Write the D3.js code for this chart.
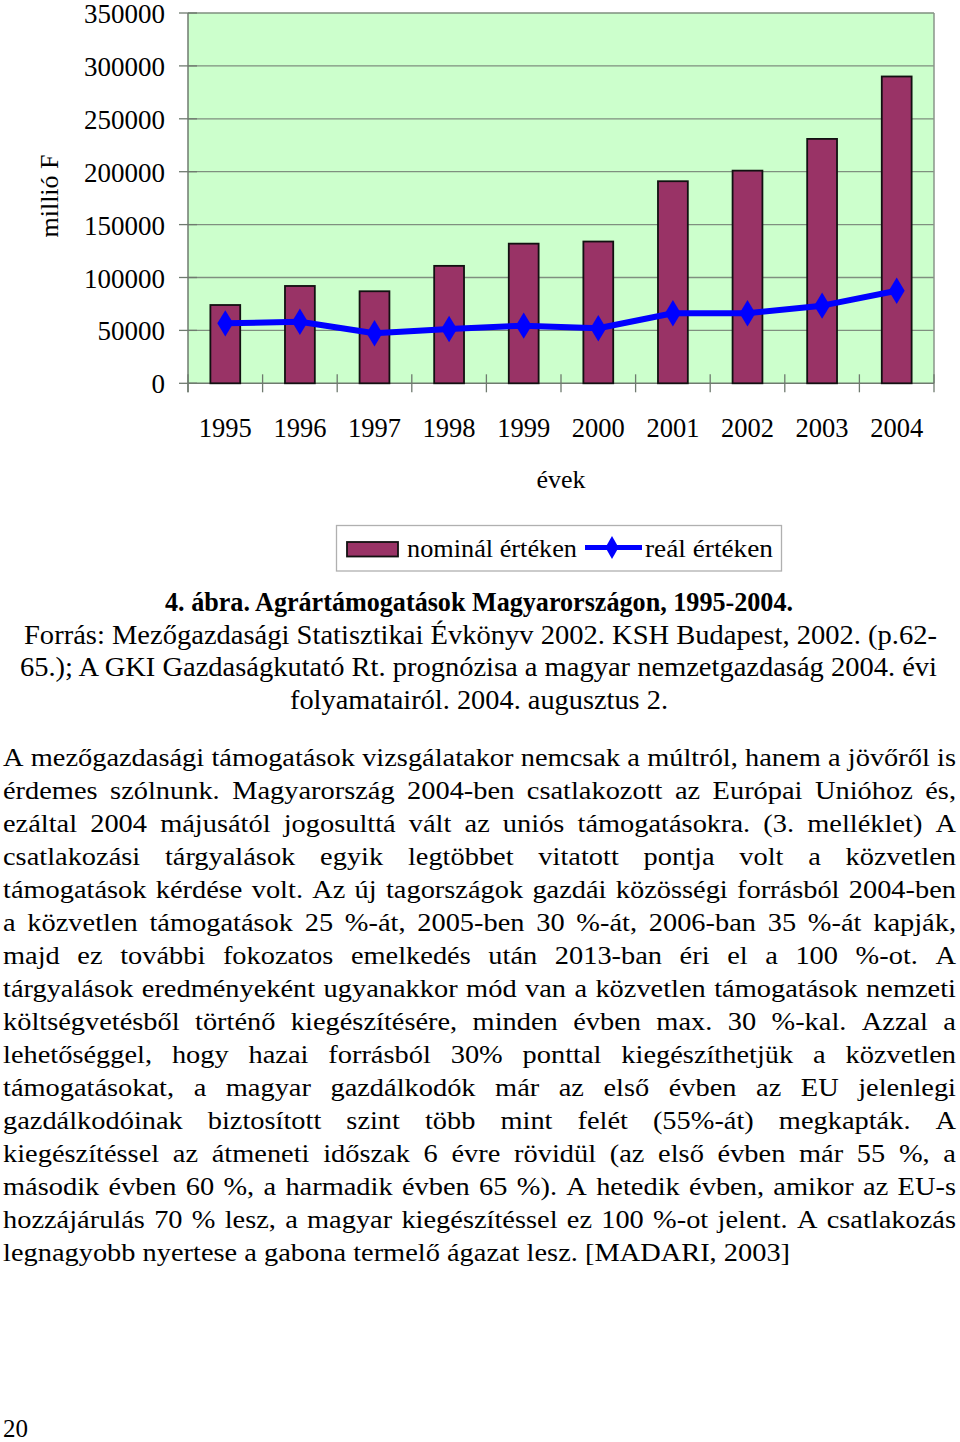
<!DOCTYPE html>
<html><head><meta charset="utf-8">
<script src="https://cdn.jsdelivr.net/npm/d3@7"></script>
<style>
html,body{margin:0;padding:0;background:#fff;}
svg{display:block;}
text{font-family:"Liberation Serif","Times New Roman",serif;fill:#000;}
</style></head>
<body>
<svg id="c" width="960" height="1442"></svg>
<script>
const years = ["1995","1996","1997","1998","1999","2000","2001","2002","2003","2004"];
const nominal = [74000, 92000, 87000, 111000, 132000, 134000, 191000, 201000, 231000, 290000];
const real = [56700, 58200, 47300, 51300, 54500, 52000, 66200, 66200, 73400, 87500];
const yTicks = [0, 50000, 100000, 150000, 200000, 250000, 300000, 350000];
const yLabel = "millió F";
const xLabel = "évek";
const legendLabels = ["nominál értéken", "reál értéken"];
const captionLines = [
  "4. ábra. Agrártámogatások Magyarországon, 1995-2004.",
  "Forrás: Mezőgazdasági Statisztikai Évkönyv 2002. KSH Budapest, 2002. (p.62-",
  "65.); A GKI Gazdaságkutató Rt. prognózisa a magyar nemzetgazdaság 2004. évi",
  "folyamatairól. 2004. augusztus 2."
];
const bodyLines = [
  "A mezőgazdasági támogatások vizsgálatakor nemcsak a múltról, hanem a jövőről is",
  "érdemes szólnunk. Magyarország 2004-ben csatlakozott az Európai Unióhoz és,",
  "ezáltal 2004 májusától jogosulttá vált az uniós támogatásokra. (3. melléklet) A",
  "csatlakozási tárgyalások egyik legtöbbet vitatott pontja volt a közvetlen",
  "támogatások kérdése volt. Az új tagországok gazdái közösségi forrásból 2004-ben",
  "a közvetlen támogatások 25 %-át, 2005-ben 30 %-át, 2006-ban 35 %-át kapják,",
  "majd ez további fokozatos emelkedés után 2013-ban éri el a 100 %-ot. A",
  "tárgyalások eredményeként ugyanakkor mód van a közvetlen támogatások nemzeti",
  "költségvetésből történő kiegészítésére, minden évben max. 30 %-kal. Azzal a",
  "lehetőséggel, hogy hazai forrásból 30% ponttal kiegészíthetjük a közvetlen",
  "támogatásokat, a magyar gazdálkodók már az első évben az EU jelenlegi",
  "gazdálkodóinak biztosított szint több mint felét (55%-át) megkapták. A",
  "kiegészítéssel az átmeneti időszak 6 évre rövidül (az első évben már 55 %, a",
  "második évben 60 %, a harmadik évben 65 %). A hetedik évben, amikor az EU-s",
  "hozzájárulás 70 % lesz, a magyar kiegészítéssel ez 100 %-ot jelent. A csatlakozás",
  "legnagyobb nyertese a gabona termelő ágazat lesz. [MADARI, 2003]"
];
const pageNumber = "20";

const svg = d3.select("#c");
const L = 188, R = 934, T = 13, B = 383.3;
const x = d3.scaleBand().domain(years).range([L, R]).paddingInner(0.6).paddingOuter(0.3);
const y = d3.scaleLinear().domain([0, 350000]).range([B, T]);
const step = x.step();

// plot background
svg.append("rect").attr("x", L).attr("y", T).attr("width", R - L).attr("height", B - T)
  .attr("fill", "#ccffcc");
// grid lines
svg.append("g").selectAll("line").data(yTicks.filter(d => d > 0)).join("line")
  .attr("x1", L).attr("x2", R).attr("y1", d => y(d)).attr("y2", d => y(d))
  .attr("stroke", "#7f8f7f").attr("stroke-width", 1.3);
// right border
svg.append("line").attr("x1", R).attr("x2", R).attr("y1", T).attr("y2", B)
  .attr("stroke", "#8a948a").attr("stroke-width", 1.5);
// y axis
svg.append("line").attr("x1", L).attr("x2", L).attr("y1", T).attr("y2", B + 9)
  .attr("stroke", "#6f7a6f").attr("stroke-width", 1.5);
svg.append("g").selectAll("line").data(yTicks).join("line")
  .attr("x1", L - 9).attr("x2", L + 9).attr("y1", d => y(d)).attr("y2", d => y(d))
  .attr("stroke", "#6f7a6f").attr("stroke-width", 1.3);
svg.append("g").selectAll("text").data(yTicks).join("text")
  .attr("x", 165).attr("y", d => y(d) + 1).attr("text-anchor", "end")
  .attr("dominant-baseline", "central").attr("font-size", 27).text(d => d);
// x axis
svg.append("line").attr("x1", L).attr("x2", R).attr("y1", B).attr("y2", B)
  .attr("stroke", "#6f7a6f").attr("stroke-width", 1.5);
const bounds = d3.range(years.length + 1).map(i => L + i * step);
svg.append("g").selectAll("line").data(bounds).join("line")
  .attr("x1", d => d).attr("x2", d => d).attr("y1", B - 9).attr("y2", B + 9)
  .attr("stroke", "#6f7a6f").attr("stroke-width", 1.3);
svg.append("g").selectAll("text").data(years).join("text")
  .attr("x", d => x(d) + x.bandwidth() / 2).attr("y", 436.5).attr("text-anchor", "middle")
  .attr("font-size", 26.5).text(d => d);
svg.append("text").attr("x", (L + R) / 2).attr("y", 488).attr("text-anchor", "middle")
  .attr("font-size", 26).text(xLabel);
// y label
svg.append("text").attr("transform", "translate(58,196) rotate(-90)").attr("text-anchor", "middle")
  .attr("font-size", 26).text(yLabel);

// bars
svg.append("g").selectAll("rect").data(years).join("rect")
  .attr("x", d => x(d)).attr("width", x.bandwidth())
  .attr("y", (d, i) => y(nominal[i])).attr("height", (d, i) => y(0) - y(nominal[i]))
  .attr("fill", "#993366").attr("stroke", "#111").attr("stroke-width", 1.8);

// line
const pts = years.map((d, i) => [x(d) + x.bandwidth() / 2, y(real[i])]);
svg.append("path").attr("d", d3.line()(pts)).attr("fill", "none")
  .attr("stroke", "#0000ff").attr("stroke-width", 6).attr("stroke-linejoin", "round");
const dia = d3.symbol().type(d3.symbolDiamond).size(200);
svg.append("g").selectAll("path").data(pts).join("path")
  .attr("transform", d => `translate(${d[0]},${d[1]}) scale(1.05,1)`)
  .attr("d", dia).attr("fill", "#0000ff");

// legend
const lg = svg.append("g");
lg.append("rect").attr("x", 336.5).attr("y", 525.5).attr("width", 445).attr("height", 45.5)
  .attr("fill", "#fff").attr("stroke", "#b0b0b0").attr("stroke-width", 1.3);
lg.append("rect").attr("x", 347).attr("y", 542).attr("width", 51).attr("height", 14.5)
  .attr("fill", "#993366").attr("stroke", "#111").attr("stroke-width", 1.8);
lg.append("text").attr("x", 407).attr("y", 557).attr("font-size", 26)
  .attr("textLength", 170).attr("lengthAdjust", "spacingAndGlyphs").text(legendLabels[0]);
lg.append("line").attr("x1", 585).attr("x2", 642).attr("y1", 547.5).attr("y2", 547.5)
  .attr("stroke", "#0000ff").attr("stroke-width", 5);
lg.append("path").attr("transform", "translate(612,547.5)").attr("d", d3.symbol().type(d3.symbolDiamond).size(150))
  .attr("fill", "#0000ff");
lg.append("text").attr("x", 645).attr("y", 557).attr("font-size", 26)
  .attr("textLength", 128).attr("lengthAdjust", "spacingAndGlyphs").text(legendLabels[1]);

// caption
const capSpec = [
  {x: 165, w: 628, yb: 611, bold: true},
  {x: 24, w: 913, yb: 644},
  {x: 20, w: 917, yb: 676},
  {x: 290, w: 378, yb: 709}
];
captionLines.forEach((t, i) => {
  const s = capSpec[i];
  svg.append("text").attr("x", s.x).attr("y", s.yb).attr("font-size", 27)
    .attr("font-weight", s.bold ? "bold" : "normal")
    .attr("textLength", s.w).attr("lengthAdjust", "spacingAndGlyphs").text(t);
});

// body text, justified, horizontally stretched like the reference
const bodyX = 3, bodyW = 953, bodyFS = 25, lastW = 787;
const meas = svg.append("text").attr("font-size", bodyFS).attr("visibility", "hidden");
function wlen(w) { meas.text(w); return meas.node().getComputedTextLength(); }
const spaceW = wlen("a b") - wlen("ab");
const sx = lastW / wlen(bodyLines[bodyLines.length - 1]);
const innerW = bodyW / sx;
bodyLines.forEach((line, i) => {
  const words = line.split(" ");
  const widths = words.map(wlen);
  const total = d3.sum(widths);
  const last = i === bodyLines.length - 1;
  const gap = last ? spaceW : (innerW - total) / (words.length - 1);
  let cx = 0;
  const t = svg.append("text")
    .attr("transform", `translate(${bodyX},${766 + i * 33}) scale(${sx},1)`)
    .attr("font-size", bodyFS);
  words.forEach((w, j) => {
    t.append("tspan").attr("x", cx).attr("y", 0).text(w);
    cx += widths[j] + gap;
  });
});
meas.remove();

svg.append("text").attr("x", 3).attr("y", 1437).attr("font-size", 25).text(pageNumber);
</script>
</body></html>
